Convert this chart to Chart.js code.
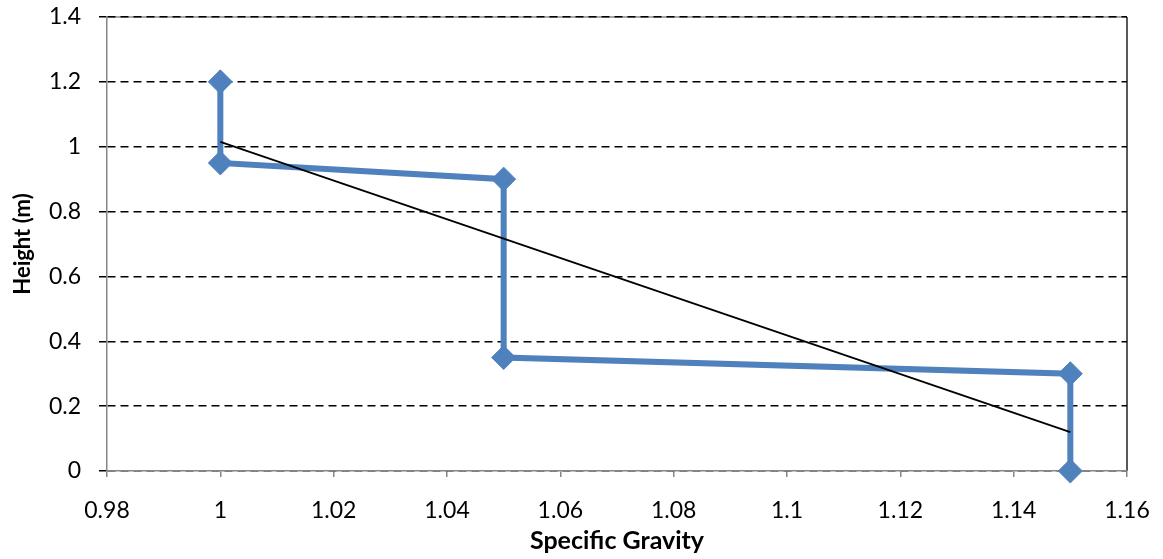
<!DOCTYPE html>
<html>
<head>
<meta charset="utf-8">
<script src="https://cdn.jsdelivr.net/npm/chart.js@4"></script>
<style>
  html, body { margin: 0; padding: 0; background: #fff; }
  #wrap { width: 1163px; height: 559px; }
</style>
</head>
<body>
<div id="wrap"><canvas id="chart" width="1163" height="559"></canvas></div>
<script>
// data
const gravity = [1, 1, 1.05, 1.05, 1.15, 1.15];
const height = [1.2, 0.95, 0.9, 0.35, 0.3, 0];
const trendX = [1, 1.15];
const trendY = [1.015, 0.12];
const xTicks = [0.98, 1, 1.02, 1.04, 1.06, 1.08, 1.1, 1.12, 1.14, 1.16];
const yTicks = [0, 0.2, 0.4, 0.6, 0.8, 1, 1.2, 1.4];

const toPts = (xs, ys) => xs.map((x, i) => ({ x: x, y: ys[i] }));

// top and right frame of the plot area, under the gridlines
const frame = {
  id: 'frame',
  beforeDraw(chart) {
    const a = chart.chartArea, c = chart.ctx;
    c.save();
    c.strokeStyle = '#8a8a8a';
    c.lineWidth = 1.5;
    c.beginPath();
    c.moveTo(a.left, a.top);
    c.lineTo(a.right, a.top);
    c.stroke();
    c.strokeStyle = '#222';
    c.beginPath();
    c.moveTo(a.right, a.top);
    c.lineTo(a.right, a.bottom);
    c.stroke();
    c.restore();
  }
};

const font = { family: 'Lato, "Open Sans", sans-serif', size: 23, lineHeight: 1 };

new Chart(document.getElementById('chart'), {
  type: 'scatter',
  data: {
    datasets: [
      { data: toPts(gravity, height), showLine: true, borderColor: '#4F81BD', backgroundColor: '#4F81BD',
        borderWidth: 6, pointStyle: 'rectRot', pointRadius: 12, pointHoverRadius: 12, pointBorderWidth: 1,
        clip: false, order: 2 },
      { data: toPts(trendX, trendY), showLine: true, borderColor: '#000', borderWidth: 1.8,
        pointRadius: 0, clip: false, order: 1 }
    ]
  },
  options: {
    responsive: false,
    animation: false,
    layout: { padding: { top: 17, right: 36, left: 0, bottom: 0 } },
    plugins: { legend: { display: false }, tooltip: { enabled: false } },
    scales: {
      x: {
        type: 'linear', min: 0.98, max: 1.16,
        afterBuildTicks: s => { s.ticks = xTicks.map(v => ({ value: v })); },
        afterFit: s => { s.height = 88; s.paddingLeft = 0; s.paddingRight = 0; },
        ticks: { font: font, color: '#000', padding: 22, maxRotation: 0, autoSkip: false,
                 callback: v => String(+v.toFixed(2)) },
        grid: { drawOnChartArea: false, drawTicks: true, tickLength: 6, color: '#868686', lineWidth: 1.5 },
        border: { color: '#868686', width: 1.5 },
        title: { display: true, text: 'Specific Gravity', color: '#000', padding: { top: 0, bottom: 3 },
                 font: { family: 'Lato, "Open Sans", sans-serif', size: 25, weight: 'bold' } }
      },
      y: {
        type: 'linear', min: 0, max: 1.4,
        afterBuildTicks: s => { s.ticks = yTicks.map(v => ({ value: v })); },
        afterFit: s => { s.width = 107; s.paddingTop = 0; s.paddingBottom = 0; },
        ticks: { font: font, color: '#000', padding: 18, autoSkip: false,
                 callback: v => String(+v.toFixed(1)) },
        grid: { color: '#000', lineWidth: 1.5, tickLength: 8 },
        border: { color: '#868686', width: 1.5, dash: [8, 5] },
        title: { display: true, text: 'Height (m)', color: '#000', padding: { top: 10, bottom: 0 },
                 font: { family: 'Lato, "Open Sans", sans-serif', size: 22, weight: 'bold' } }
      }
    }
  },
  plugins: [frame]
});
</script>
</body>
</html>
